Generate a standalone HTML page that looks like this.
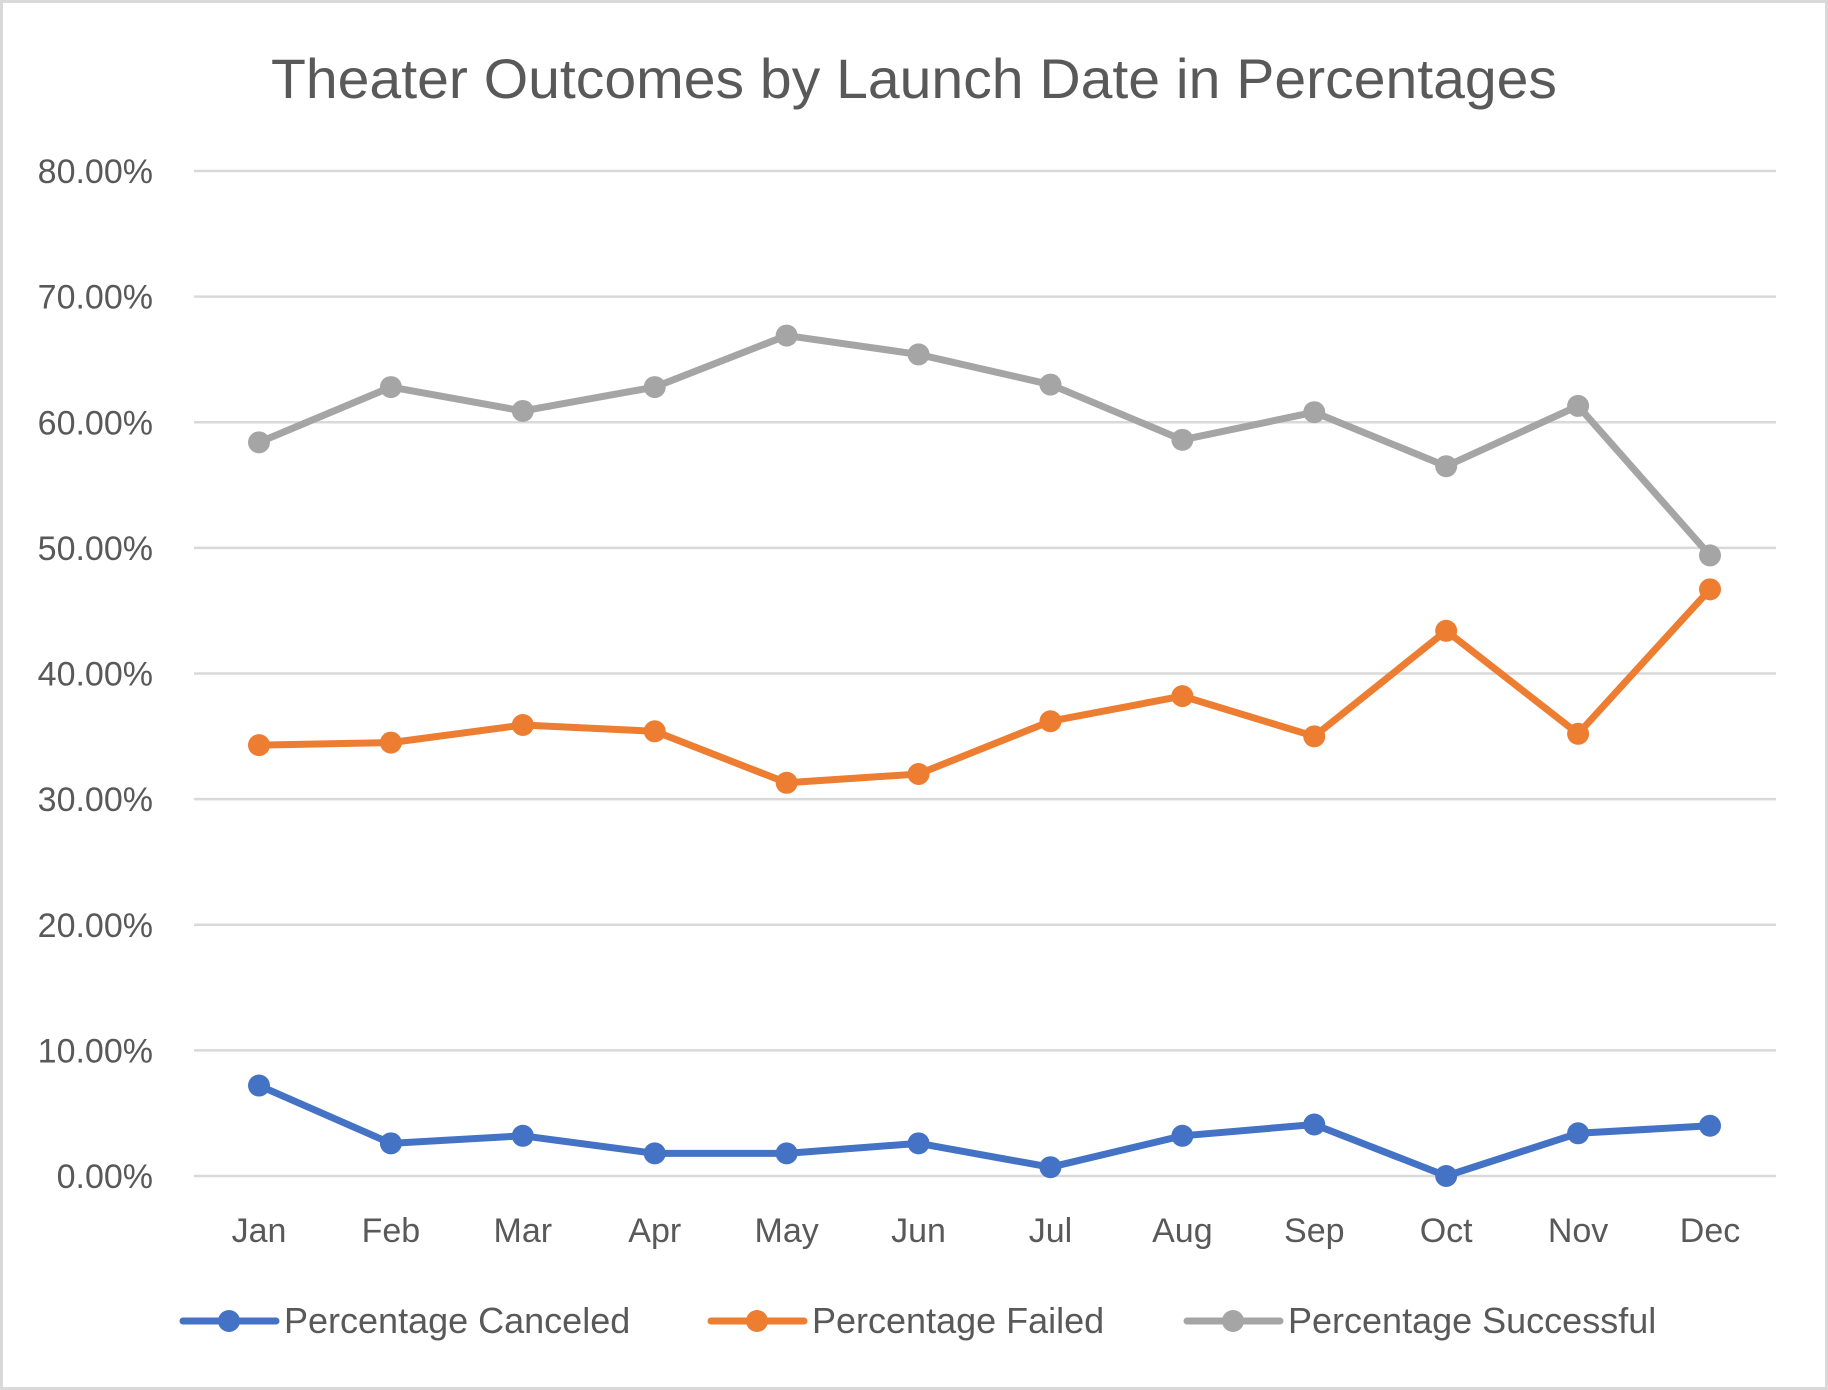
<!DOCTYPE html>
<html><head><meta charset="utf-8"><style>
html,body{margin:0;padding:0;background:#fff;}
svg{display:block;font-family:"Liberation Sans",sans-serif;}
</style></head><body>
<svg id="chart" width="1828" height="1390" viewBox="0 0 1828 1390">
<rect x="1.5" y="1.5" width="1825" height="1387" fill="#fff" stroke="#d9d9d9" stroke-width="3"/>
<text x="914" y="98" text-anchor="middle" font-size="56" fill="#595959" textLength="1286" lengthAdjust="spacingAndGlyphs">Theater Outcomes by Launch Date in Percentages</text>
<g id="grid"></g><g id="yticks"></g><g id="xticks"></g><g id="series"></g><g id="legend"></g>
</svg>
<script>
const months = ["Jan","Feb","Mar","Apr","May","Jun","Jul","Aug","Sep","Oct","Nov","Dec"];
const canceled = [7.2,2.6,3.2,1.8,1.8,2.6,0.7,3.2,4.1,0.0,3.4,4.0];
const failed = [34.3,34.5,35.9,35.4,31.3,32.0,36.2,38.2,35.0,43.4,35.2,46.7];
const successful = [58.4,62.8,60.9,62.8,66.9,65.4,63.0,58.6,60.8,56.5,61.3,49.4];
const yTickValues = [0,10,20,30,40,50,60,70,80];
const seriesNames = ["Percentage Canceled","Percentage Failed","Percentage Successful"];

const NS="http://www.w3.org/2000/svg";
const x0=194,x1=1776,yTop=171,yBot=1176;
const step=(1710-259)/11;
function xPos(i){return 259+i*step;}
function yPos(v){return yBot-(v/80)*(yBot-yTop);}
function mk(tag,attrs,parent){const e=document.createElementNS(NS,tag);for(const k in attrs)e.setAttribute(k,attrs[k]);parent.appendChild(e);return e;}
const grid=document.getElementById('grid'),yt=document.getElementById('yticks'),xt=document.getElementById('xticks'),ser=document.getElementById('series'),leg=document.getElementById('legend');
yTickValues.forEach(v=>{
  const l=mk('line',{x1:x0,x2:x1,y1:yPos(v),y2:yPos(v),stroke:'#d9d9d9','stroke-width':2.5},grid);
  
  
  const t=mk('text',{x:153,y:yPos(v)+12,'text-anchor':'end','font-size':34,fill:'#595959'},yt);
  t.textContent=v.toFixed(2)+'%';
  
  
});
months.forEach((m,i)=>{
  const t=mk('text',{x:xPos(i),y:1242,'text-anchor':'middle','font-size':34,fill:'#595959'},xt);
  t.textContent=m;
  
  
});
const colors=['#4472c4','#ed7d31','#a5a5a5'];
[canceled,failed,successful].forEach((d,s)=>{
  const g=mk('g',{},ser);
  
  
  const p=mk('polyline',{points:d.map((v,i)=>xPos(i)+','+yPos(v)).join(' '),fill:'none',stroke:colors[s],'stroke-width':7,'stroke-linejoin':'round','stroke-linecap':'round'},g);
  
  
  d.forEach((v,i)=>{
    const c=mk('circle',{cx:xPos(i),cy:yPos(v),r:11,fill:colors[s]},g);
    
    
  });
});
const legX=[183,711,1187];
seriesNames.forEach((n,s)=>{
  const g=mk('g',{},leg);
  
  
  mk('line',{x1:legX[s],x2:legX[s]+93,y1:1321,y2:1321,stroke:colors[s],'stroke-width':7,'stroke-linecap':'round'},g);
  mk('circle',{cx:legX[s]+46,cy:1321,r:11,fill:colors[s]},g);
  const t=mk('text',{x:legX[s]+101,y:1333,'font-size':36,fill:'#595959'},g);
  t.textContent=n;
});
</script>
</body></html>
